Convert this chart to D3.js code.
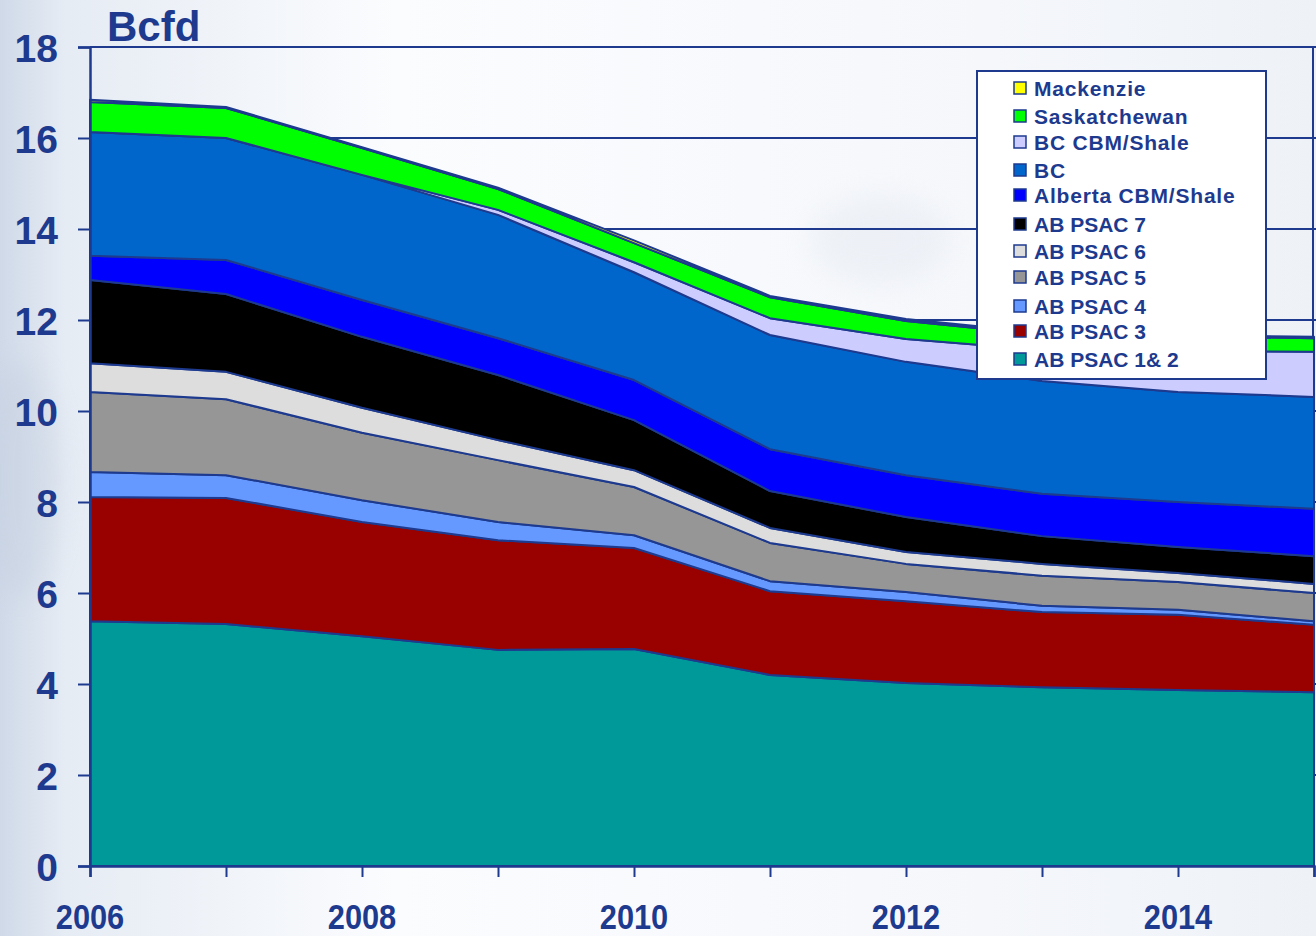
<!DOCTYPE html>
<html>
<head>
<meta charset="utf-8">
<script src="https://cdn.jsdelivr.net/npm/d3@7"></script>
<style>
  html, body { margin: 0; padding: 0; background: #fff; }
  svg { display: block; font-family: "Liberation Sans", Arial, sans-serif; }
</style>
</head>
<body>
<div id="vis"></div>
<script>
// years on the x axis
var years = [2006, 2007, 2008, 2009, 2010, 2011, 2012, 2013, 2014, 2015];

// series values, Bcfd (bottom of the stack first)
var psac12   = [5.38, 5.32, 5.05, 4.75, 4.77, 4.20, 4.02, 3.93, 3.87, 3.82];
var psac3    = [2.73, 2.77, 2.51, 2.41, 2.22, 1.84, 1.80, 1.65, 1.65, 1.48];
var psac4    = [0.55, 0.50, 0.48, 0.40, 0.28, 0.22, 0.20, 0.14, 0.11, 0.08];
var psac5    = [1.76, 1.67, 1.48, 1.36, 1.06, 0.84, 0.62, 0.66, 0.61, 0.62];
var psac6    = [0.63, 0.60, 0.55, 0.44, 0.37, 0.33, 0.26, 0.26, 0.20, 0.20];
var psac7    = [1.83, 1.71, 1.56, 1.43, 1.10, 0.81, 0.77, 0.61, 0.57, 0.61];
var albCbm   = [0.53, 0.75, 0.81, 0.81, 0.88, 0.92, 0.92, 0.93, 0.99, 1.04];
var bc       = [2.72, 2.68, 2.75, 2.71, 2.37, 2.51, 2.49, 2.48, 2.42, 2.46];
var bcCbm    = [0.00, 0.00, 0.00, 0.11, 0.22, 0.37, 0.50, 0.68, 0.90, 0.99];
var sask     = [0.66, 0.66, 0.59, 0.46, 0.42, 0.46, 0.40, 0.34, 0.32, 0.30];
var mackenzie= [0.05, 0.02, 0.02, 0.03, 0.06, 0.03, 0.04, 0.04, 0.03, 0.03];

var seriesNames = ["AB PSAC 1& 2", "AB PSAC 3", "AB PSAC 4", "AB PSAC 5", "AB PSAC 6",
                   "AB PSAC 7", "Alberta CBM/Shale", "BC", "BC CBM/Shale", "Saskatchewan", "Mackenzie"];
var seriesValues = [psac12, psac3, psac4, psac5, psac6, psac7, albCbm, bc, bcCbm, sask, mackenzie];
var seriesColors = ["#009999", "#990000", "#6699ff", "#969696", "#dddddd",
                    "#000000", "#0000ff", "#0066cc", "#ccccff", "#00ff00", "#ffff00"];

var yTicks = [0, 2, 4, 6, 8, 10, 12, 14, 16, 18];
var xLabels = [2006, 2008, 2010, 2012, 2014];

var ink = "#1d3a8e";
var W = 1316, H = 936;

// build rows for d3.stack
var rows = years.map(function(yr, i) {
    var r = { year: yr };
    seriesNames.forEach(function(n, k) { r[n] = seriesValues[k][i]; });
    return r;
});
var stacked = d3.stack().keys(seriesNames)(rows);

var x = d3.scaleLinear().domain([2006, 2015]).range([90, 1314]);
var y = d3.scaleLinear().domain([0, 18]).range([866, 47]);
var color = d3.scaleOrdinal().domain(seriesNames).range(seriesColors);

var svg = d3.select("#vis").append("svg")
    .attr("width", W)
    .attr("height", H);

// background wash (stands in for the faded map picture)
var defs = svg.append("defs");
var bg = defs.append("linearGradient").attr("id", "bg")
    .attr("x1", "0").attr("x2", "1").attr("y1", "0").attr("y2", "0");
bg.append("stop").attr("offset", "0").attr("stop-color", "#cfd9e8");
bg.append("stop").attr("offset", "0.05").attr("stop-color", "#e6ecf4");
bg.append("stop").attr("offset", "0.3").attr("stop-color", "#fbfcfe");
bg.append("stop").attr("offset", "0.75").attr("stop-color", "#f5f7fb");
bg.append("stop").attr("offset", "1").attr("stop-color", "#eef2f7");
var blur = defs.append("filter").attr("id", "blur");
blur.append("feGaussianBlur").attr("stdDeviation", 14);

svg.append("rect").attr("width", W).attr("height", H).attr("fill", "url(#bg)");

var mapHints = svg.append("g").attr("filter", "url(#blur)").attr("opacity", 0.35);
mapHints.append("ellipse").attr("cx", 880).attr("cy", 240).attr("rx", 70).attr("ry", 45).attr("fill", "#dde3ec");
mapHints.append("ellipse").attr("cx", 20).attr("cy", 480).attr("rx", 40).attr("ry", 120).attr("fill", "#bfcadc");

// gridlines
svg.append("g").selectAll("line")
    .data(yTicks.filter(function(d) { return d > 0; }))
    .join("line")
    .attr("x1", 90).attr("x2", W)
    .attr("y1", function(d) { return y(d); })
    .attr("y2", function(d) { return y(d); })
    .attr("stroke", ink)
    .attr("stroke-width", 2);

// right border of the plot
svg.append("line")
    .attr("x1", 1313).attr("x2", 1313)
    .attr("y1", y(18)).attr("y2", y(0))
    .attr("stroke", ink).attr("stroke-width", 2);

// stacked areas
var area = d3.area()
    .x(function(d) { return x(d.data.year); })
    .y0(function(d) { return y(d[0]); })
    .y1(function(d) { return y(d[1]); });

svg.append("g").selectAll("path")
    .data(stacked)
    .join("path")
    .attr("d", area)
    .attr("fill", function(d) { return color(d.key); })
    .attr("stroke", ink)
    .attr("stroke-width", 2)
    .attr("stroke-linejoin", "round");

// y axis
var yAxis = svg.append("g")
    .attr("transform", "translate(90,0)")
    .call(d3.axisLeft(y).tickValues(yTicks).tickSize(12).tickPadding(20).tickFormat(d3.format("d")));
yAxis.select(".domain").attr("stroke", ink).attr("stroke-width", 2.5);
yAxis.selectAll(".tick line").attr("stroke", ink).attr("stroke-width", 2);
yAxis.selectAll(".tick text")
    .attr("fill", ink)
    .attr("font-size", 39)
    .attr("font-weight", "bold")
    .attr("dy", "0.38em");

// x axis (ticks every year, labels every other year)
var xAxis = svg.append("g")
    .attr("transform", "translate(0,866)")
    .call(d3.axisBottom(x).tickValues(years).tickSize(11).tickFormat(""));
xAxis.select(".domain").attr("stroke", ink).attr("stroke-width", 2.5);
xAxis.selectAll(".tick line").attr("stroke", ink).attr("stroke-width", 2);

svg.append("g").selectAll("text")
    .data(xLabels)
    .join("text")
    .attr("transform", function(d) { return "translate(" + x(d) + ",929) scale(0.88,1)"; })
    .attr("text-anchor", "middle")
    .attr("fill", ink)
    .attr("font-size", 35)
    .attr("font-weight", "bold")
    .text(function(d) { return d; });

// unit title
svg.append("text")
    .attr("x", 107).attr("y", 41)
    .attr("fill", ink)
    .attr("font-size", 42)
    .attr("font-weight", "bold")
    .text("Bcfd");

// legend, top series first
var legend = svg.append("g").attr("transform", "translate(977,71)");
legend.append("rect")
    .attr("width", 289).attr("height", 308)
    .attr("fill", "#fff")
    .attr("stroke", ink).attr("stroke-width", 2);

var legendKeys = seriesNames.slice().reverse();
var legendY = [17, 45, 71, 99, 124, 153, 180, 206, 235, 260, 288];
var item = legend.selectAll(".item")
    .data(legendKeys)
    .join("g")
    .attr("class", "item")
    .attr("transform", function(d, i) { return "translate(0," + legendY[i] + ")"; });
item.append("rect")
    .attr("x", 37).attr("y", -6)
    .attr("width", 12).attr("height", 12)
    .attr("fill", function(d) { return color(d); })
    .attr("stroke", ink).attr("stroke-width", 1.5);
item.append("text")
    .attr("x", 57).attr("y", 8)
    .attr("fill", ink)
    .attr("font-size", 21)
    .attr("font-weight", "bold")
    .attr("letter-spacing", function(d) { return d.indexOf("AB") === 0 ? 0 : 0.8; })
    .text(function(d) { return d; });
</script>
</body>
</html>
